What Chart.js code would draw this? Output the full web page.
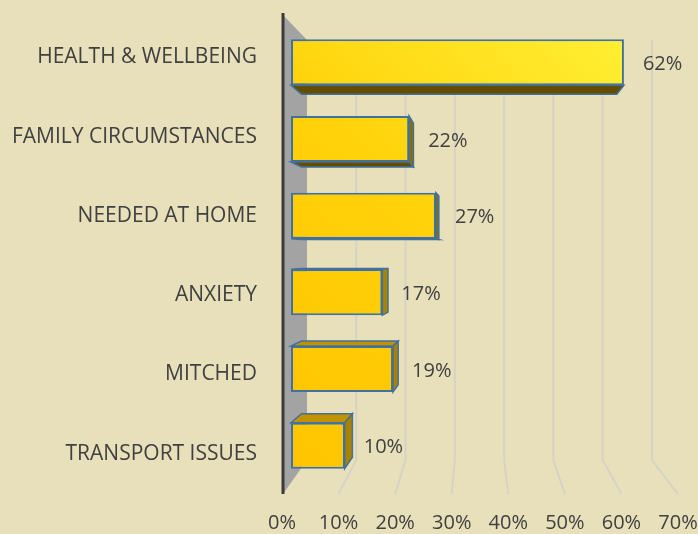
<!DOCTYPE html>
<html>
<head>
<meta charset="utf-8">
<script src="https://cdn.jsdelivr.net/npm/chart.js@4"></script>
<style>
  html, body { margin: 0; padding: 0; background: #e8e0ba; }
  #wrap { width: 698px; height: 534px; }
</style>
</head>
<body>
<div id="wrap"><canvas id="chart" width="698" height="534"></canvas></div>
<script>
const categories = ['HEALTH & WELLBEING', 'FAMILY CIRCUMSTANCES', 'NEEDED AT HOME', 'ANXIETY', 'MITCHED', 'TRANSPORT ISSUES'];
const percentages = [62, 22, 27, 17, 19, 10];
const tickValues = [0, 10, 20, 30, 40, 50, 60, 70];

const FONT = '"Open Sans", sans-serif';
const TEXT = '#404040';
const EDGE = '#41719c';

// punto de fuga para la profundidad de las barras
const VP = { x: 490, y: 254 };
const K = 0.947;
const back = (x, y) => [VP.x + (x - VP.x) * K, VP.y + (y - VP.y) * K];

function poly(ctx, pts, fill) {
    ctx.beginPath();
    ctx.moveTo(pts[0][0], pts[0][1]);
    for (let i = 1; i < pts.length; i++) ctx.lineTo(pts[i][0], pts[i][1]);
    ctx.closePath();
    ctx.fillStyle = fill;
    ctx.fill();
    ctx.strokeStyle = EDGE;
    ctx.lineWidth = 1.5;
    ctx.stroke();
}

const escena3d = {
    id: 'escena3d',
    beforeDatasetsDraw(chart) {
        const ctx = chart.ctx;
        const area = chart.chartArea;
        const x2 = chart.scales.x2;
        const x0 = x2.getPixelForValue(0);
        const backTop = area.top + 16, backBottom = area.bottom - 24;
        const frontTop = area.top - 11, frontBottom = area.bottom + 10;
        const toBack = px => 307 + (px - x0) * 0.871;

        ctx.save();
        // rejilla doblada (pared del fondo + suelo)
        ctx.strokeStyle = '#d6d3c6';
        ctx.lineWidth = 2;
        tickValues.slice(1).forEach(v => {
            const f = x2.getPixelForValue(v);
            const b = toBack(f);
            ctx.beginPath();
            ctx.moveTo(b, backTop);
            ctx.lineTo(b, backBottom);
            ctx.lineTo(f, frontBottom);
            ctx.stroke();
        });

        // pared lateral gris
        ctx.beginPath();
        ctx.moveTo(x0 + 1, frontTop + 2);
        ctx.lineTo(toBack(x0), backTop);
        ctx.lineTo(toBack(x0), backBottom);
        ctx.lineTo(x0 + 1, frontBottom);
        ctx.closePath();
        ctx.fillStyle = '#a3a3a3';
        ctx.fill();

        ctx.strokeStyle = '#3b3b3b';
        ctx.lineWidth = 3;
        ctx.beginPath();
        ctx.moveTo(x0 + 1, frontTop);
        ctx.lineTo(x0 + 1, frontBottom);
        ctx.stroke();

        // caras ocultas de cada barra
        chart.getDatasetMeta(0).data.forEach(bar => {
            const h = bar.height / 2;
            const l = bar.base, r = bar.x, t = bar.y - h, b = bar.y + h;
            if (b < VP.y) poly(ctx, [[l, b], [r, b], back(r, b), back(l, b)], '#654d00');
            if (t > VP.y) poly(ctx, [[l, t], [r, t], back(r, t), back(l, t)], '#c29200');
            if (r < VP.x) poly(ctx, [[r, t], [r, b], back(r, b), back(r, t)], r < 400 ? '#a98300' : '#8a6f00');
        });
        ctx.restore();
    },
    afterDatasetsDraw(chart) {
        const ctx = chart.ctx;
        ctx.save();
        ctx.font = '20px ' + FONT;
        ctx.fillStyle = TEXT;
        ctx.textBaseline = 'middle';
        chart.getDatasetMeta(0).data.forEach((bar, i) => {
            ctx.fillText(percentages[i] + '%', bar.x + 19, bar.y + 2);
        });
        ctx.restore();
    }
};

new Chart(document.getElementById('chart'), {
    type: 'bar',
    data: {
        labels: categories,
        datasets: [{
            data: percentages,
            backgroundColor: ctx => {
                const area = ctx.chart.chartArea;
                if (!area) return '#ffc800';
                const g = ctx.chart.ctx.createLinearGradient(area.left, area.bottom, area.right, area.top);
                g.addColorStop(0, '#ffc300');
                g.addColorStop(0.5, '#ffd20a');
                g.addColorStop(1, '#fff43a');
                return g;
            },
            borderColor: EDGE,
            borderWidth: 2,
            borderSkipped: false,
            barPercentage: 0.6,
            categoryPercentage: 1
        }]
    },
    options: {
        indexAxis: 'y',
        responsive: false,
        animation: false,
        layout: { padding: { top: 24, right: 20, left: 0, bottom: 0 } },
        plugins: { legend: { display: false }, tooltip: { enabled: false } },
        scales: {
            x: {
                display: false,
                min: -1.676,
                max: 72.07
            },
            x2: {
                type: 'linear',
                position: 'bottom',
                min: 0,
                max: 70,
                grid: { display: false, drawTicks: true, tickLength: 27 },
                border: { display: false },
                ticks: {
                    stepSize: 10,
                    padding: 0,
                    color: TEXT,
                    font: { family: FONT, size: 20 },
                    callback: v => v + '%'
                },
                afterFit: s => { s.height = 50; }
            },
            y: {
                display: false,
                offset: true
            },
            // eje de etiquetas en el plano frontal (algo más separado que las barras)
            y2: {
                type: 'linear',
                position: 'left',
                reverse: true,
                offset: false,
                bounds: 'data',
                min: -0.4207,
                max: 5.383,
                grid: { display: false, offset: false, drawTicks: true, tickLength: 25 },
                border: { display: false },
                ticks: {
                    padding: 0,
                    autoSkip: false,
                    color: TEXT,
                    font: { family: FONT, size: 21 },
                    callback: v => categories[v]
                },
                afterBuildTicks: s => { s.ticks = categories.map((c, i) => ({ value: i })); },
                afterFit: s => { s.width = 282; }
            }
        }
    },
    plugins: [escena3d]
});
</script>
</body>
</html>
